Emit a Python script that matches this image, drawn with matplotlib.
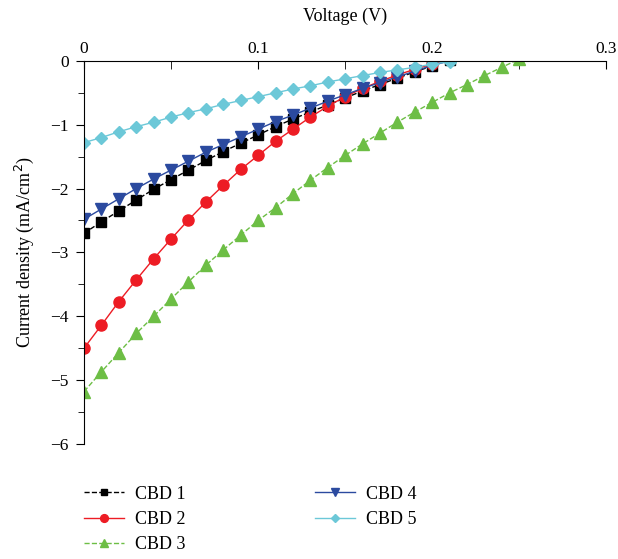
import numpy as np
import matplotlib
matplotlib.use('Agg')
import matplotlib.pyplot as plt
from matplotlib.ticker import MultipleLocator, FuncFormatter

plt.rcParams['font.family'] = ['Liberation Serif', 'DejaVu Serif']

# Voltage steps (V)
v_21 = [0.00, 0.01, 0.02, 0.03, 0.04, 0.05, 0.06, 0.07, 0.08, 0.09, 0.10,
        0.11, 0.12, 0.13, 0.14, 0.15, 0.16, 0.17, 0.18, 0.19, 0.20, 0.21]
v_25 = v_21 + [0.22, 0.23, 0.24, 0.25]

# Current density (mA/cm2)
cbd1 = [-2.70, -2.52, -2.35, -2.18, -2.01, -1.86, -1.71, -1.56, -1.42, -1.29, -1.16,
        -1.03, -0.91, -0.80, -0.69, -0.58, -0.47, -0.37, -0.27, -0.17, -0.08, 0.02]
cbd2 = [-4.50, -4.14, -3.77, -3.43, -3.10, -2.79, -2.49, -2.21, -1.95, -1.70, -1.48,
        -1.26, -1.07, -0.88, -0.71, -0.56, -0.43, -0.32, -0.22, -0.13, -0.05, 0.03]
cbd3 = [-5.18, -4.87, -4.57, -4.27, -4.00, -3.73, -3.46, -3.20, -2.96, -2.73, -2.50,
        -2.30, -2.08, -1.87, -1.67, -1.48, -1.30, -1.13, -0.96, -0.80, -0.65, -0.50,
        -0.37, -0.23, -0.10, 0.03]
cbd4 = [-2.48, -2.32, -2.16, -2.00, -1.85, -1.71, -1.57, -1.43, -1.31, -1.19, -1.07,
        -0.95, -0.85, -0.74, -0.63, -0.53, -0.43, -0.34, -0.25, -0.16, -0.07, 0.00]
cbd5 = [-1.28, -1.20, -1.11, -1.03, -0.96, -0.88, -0.81, -0.75, -0.68, -0.62, -0.56,
        -0.50, -0.44, -0.39, -0.33, -0.28, -0.23, -0.18, -0.14, -0.10, -0.05, -0.01]

fig = plt.figure(figsize=(6.18, 5.59), dpi=100)
ax = fig.add_axes([0.136, 0.206, 0.845, 0.685])

ax.plot(v_21, cbd1, color='black', ls='--', lw=1, marker='s', ms=6.5, label='CBD 1')
ax.plot(v_21, cbd2, color='#ED1C24', ls='-', lw=1, marker='o', ms=8, label='CBD 2')
ax.plot(v_25, cbd3, color='#6DBE45', ls='--', lw=1, marker='^', ms=8.5, label='CBD 3')
ax.plot(v_21, cbd4, color='#2B4A9F', ls='-', lw=1, marker='v', ms=8.5, label='CBD 4')
ax.plot(v_21, cbd5, color='#6CC8D8', ls='-', lw=1, marker='D', ms=6.5, label='CBD 5')

def fmt(val, pos):
    s = '%g' % val
    return s.replace('-', '\u2212')

ax.set_xlim(0, 0.3)
ax.set_ylim(-6, 0)
ax.spines['right'].set_visible(False)
ax.spines['bottom'].set_visible(False)
ax.xaxis.tick_top()
ax.xaxis.set_label_position('top')
ax.xaxis.set_major_locator(MultipleLocator(0.1))
ax.xaxis.set_minor_locator(MultipleLocator(0.05))
ax.xaxis.set_major_formatter(FuncFormatter(fmt))
ax.yaxis.set_major_locator(MultipleLocator(1))
ax.yaxis.set_minor_locator(MultipleLocator(0.5))
ax.yaxis.set_major_formatter(FuncFormatter(fmt))
ax.tick_params(axis='x', which='both', direction='in', length=6, labelsize=12.5, pad=3)
ax.tick_params(axis='y', which='major', direction='out', length=6, labelsize=12.5, pad=5)
ax.tick_params(axis='y', which='minor', direction='out', length=4)
ax.set_xlabel('Voltage (V)', fontsize=13, labelpad=14)
ax.set_ylabel('Current density (mA/cm$^2$)', fontsize=13, labelpad=10)

fig.legend(loc='upper left', bbox_to_anchor=(0.11, 0.16), ncol=2, frameon=False,
           fontsize=13, handlelength=2.2, labelspacing=0.45, columnspacing=7.2,
           handletextpad=0.6, markerscale=0.7)

fig.savefig('out.png', dpi=100)
